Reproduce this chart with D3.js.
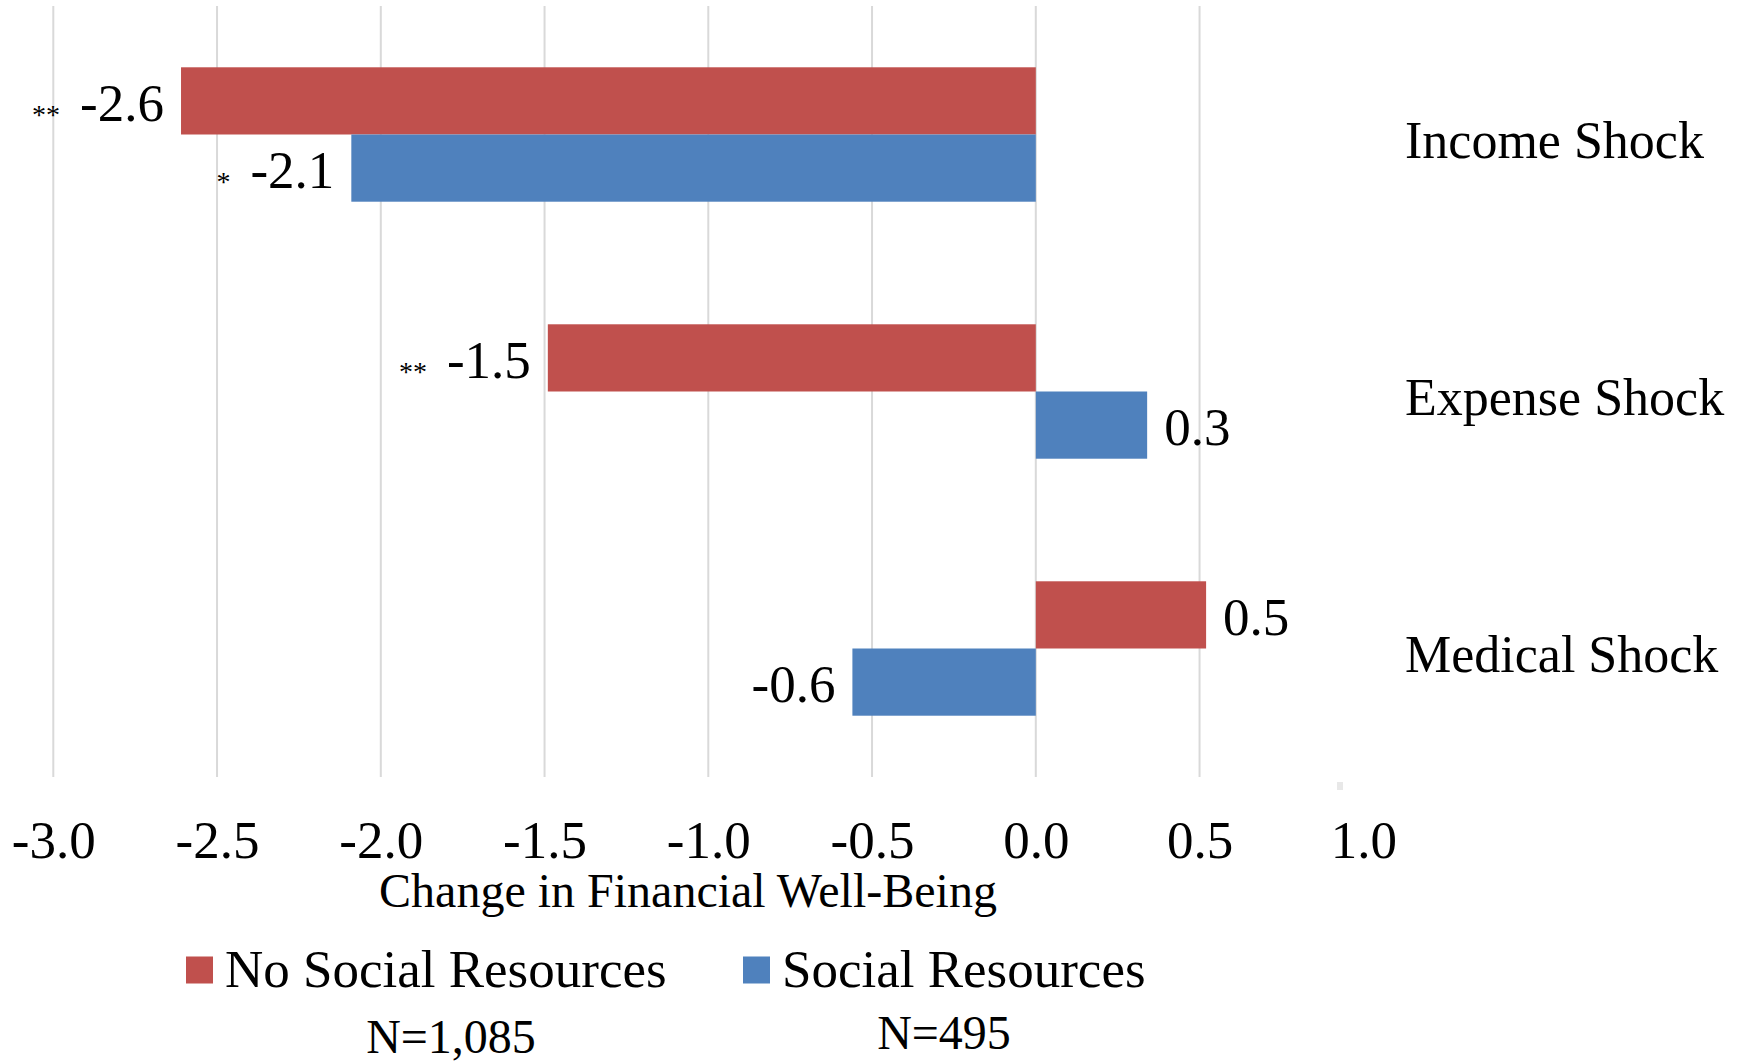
<!DOCTYPE html>
<html>
<head>
<meta charset="utf-8">
<script src="https://cdn.jsdelivr.net/npm/d3@7"></script>
<style>
  html, body { margin: 0; padding: 0; background: #fff; }
  svg { display: block; font-family: "Liberation Serif", "Times New Roman", serif; }
</style>
</head>
<body>
<svg id="chart" width="1750" height="1063"></svg>
<script>
// Shock categories, top to bottom
const categories = ["Income Shock", "Expense Shock", "Medical Shock"];

// Series names and sample sizes
const seriesNames = ["No Social Resources", "Social Resources"];
const sampleSizes = ["N=1,085", "N=495"];
const seriesColors = ["#C0504D", "#4F81BD"];

// Change in financial well-being for each category
const noSocialValues = [-2.61, -1.49, 0.52];
const socialValues = [-2.09, 0.34, -0.56];

// Significance markers printed before each value label
const noSocialSig = ["**", "**", ""];
const socialSig = ["*", "", ""];

// X-axis ticks
const xTicks = [-3.0, -2.5, -2.0, -1.5, -1.0, -0.5, 0.0, 0.5, 1.0];
const gridTicks = [-3.0, -2.5, -2.0, -1.5, -1.0, -0.5, 0.0, 0.5];

const fmt = d3.formatLocale({decimal: ".", thousands: ",", grouping: [3], currency: ["$", ""], minus: "-"}).format(".1f");

const svg = d3.select("#chart");

const plotTop = 6, plotBottom = 777;
const x = d3.scaleLinear().domain([-3, 1]).range([53.3, 1363.3]);
const y = d3.scaleBand().domain(categories).range([plotTop, plotBottom])
  .paddingInner(0.477).paddingOuter(0.2385);
const ySub = d3.scaleBand().domain([0, 1]).range([0, y.bandwidth()]);

// Vertical gridlines
svg.append("g").selectAll("line").data(gridTicks).join("line")
  .attr("x1", d => x(d)).attr("x2", d => x(d))
  .attr("y1", plotTop).attr("y2", plotBottom)
  .attr("stroke", "#D9D9D9").attr("stroke-width", 2);

// small grey speck below the plot area on the right
svg.append("rect").attr("x", 1337).attr("y", 782).attr("width", 6).attr("height", 8)
  .attr("fill", "#E8E8E8");

// Bars
const series = [
  {values: noSocialValues, sig: noSocialSig, color: seriesColors[0]},
  {values: socialValues, sig: socialSig, color: seriesColors[1]}
];

const rows = [];
series.forEach((s, si) => {
  categories.forEach((c, ci) => {
    rows.push({cat: c, si, v: s.values[ci], sig: s.sig[ci], color: s.color});
  });
});

svg.append("g").selectAll("rect").data(rows).join("rect")
  .attr("x", d => x(Math.min(0, d.v)))
  .attr("width", d => Math.abs(x(d.v) - x(0)))
  .attr("y", d => y(d.cat) + ySub(d.si))
  .attr("height", ySub.bandwidth())
  .attr("fill", d => d.color);

// Value labels with significance markers
const labelGap = 17;
const labels = svg.append("g");
rows.forEach(d => {
  const cy = y(d.cat) + ySub(d.si) + ySub.bandwidth() / 2;
  const neg = d.v < 0;
  const lx = neg ? x(d.v) - labelGap : x(d.v) + labelGap;
  const t = labels.append("text")
    .attr("x", lx).attr("y", cy + 20)
    .attr("text-anchor", neg ? "end" : "start")
    .attr("font-size", 53).attr("fill", "#000")
    .text(fmt(d.v));
  if (d.sig) {
    const w = t.node().getComputedTextLength();
    labels.append("text")
      .attr("x", lx - w - 20).attr("y", cy + 23)
      .attr("text-anchor", "end")
      .attr("font-size", 28).attr("fill", "#000")
      .text(d.sig);
  }
});

// Category labels on the right
svg.append("g").selectAll("text").data(categories).join("text")
  .attr("x", 1405)
  .attr("y", d => y(d) + y.bandwidth() / 2 + 23)
  .attr("font-size", 52).attr("fill", "#000")
  .text(d => d);

// X axis
const xAxis = svg.append("g")
  .attr("transform", `translate(0,${plotBottom})`)
  .call(d3.axisBottom(x).tickValues(xTicks).tickFormat(fmt).tickSize(0));
xAxis.select(".domain").remove();
xAxis.selectAll("text")
  .attr("y", 81).attr("dy", 0)
  .attr("font-size", 53).attr("fill", "#000")
  .attr("font-family", "Liberation Serif, Times New Roman, serif");

// Axis title
svg.append("text")
  .attr("x", 688).attr("y", 907)
  .attr("text-anchor", "middle")
  .attr("font-size", 48).attr("fill", "#000")
  .text("Change in Financial Well-Being");

// Legend
const legendX = [186, 743];
const nX = [451, 944];
const nY = [1053, 1049];
seriesNames.forEach((name, i) => {
  svg.append("rect")
    .attr("x", legendX[i]).attr("y", 956.5)
    .attr("width", 27).attr("height", 27)
    .attr("fill", seriesColors[i]);
  svg.append("text")
    .attr("x", legendX[i] + 39).attr("y", 987)
    .attr("font-size", 53).attr("fill", "#000")
    .text(name);
  svg.append("text")
    .attr("x", nX[i]).attr("y", nY[i])
    .attr("text-anchor", "middle")
    .attr("font-size", 48).attr("fill", "#000")
    .text(sampleSizes[i]);
});
</script>
</body>
</html>
